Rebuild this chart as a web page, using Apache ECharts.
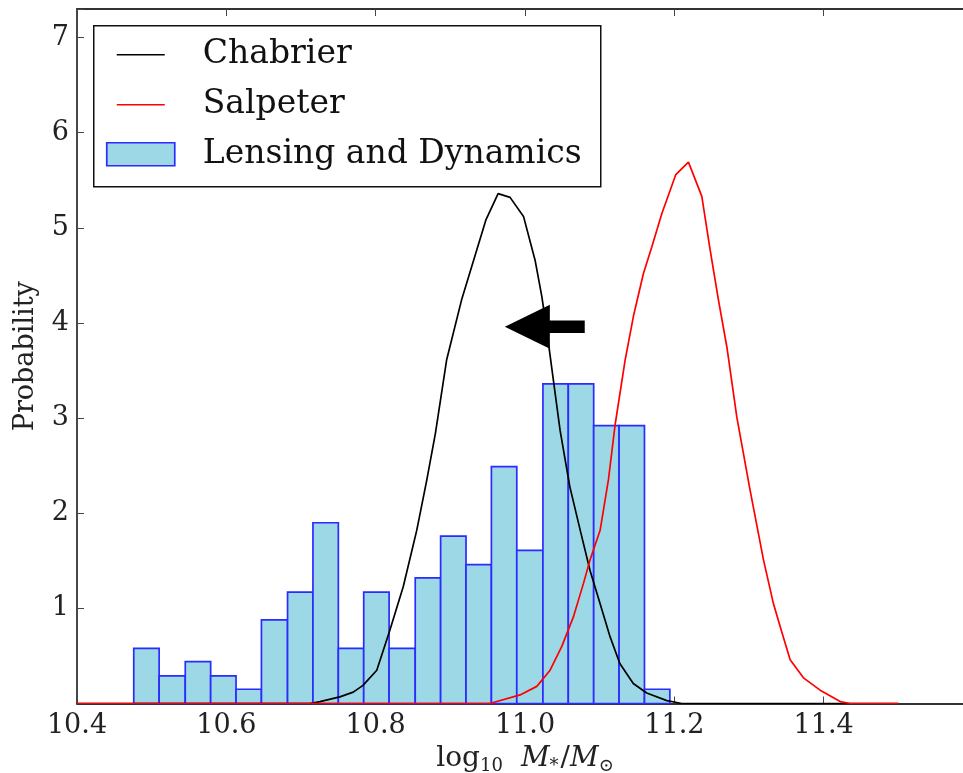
<!DOCTYPE html>
<html>
<head>
<meta charset="utf-8">
<script src="https://cdn.jsdelivr.net/npm/echarts@6/dist/echarts.min.js"></script>
<style>
  html, body { margin: 0; padding: 0; background: #fff; }
  #chart { width: 963px; height: 773px; }
</style>
</head>
<body>
<div id="chart"></div>
<script>
// Histogram of lensing + dynamics stellar masses (probability density per bin)
const binEdges = [10.476, 10.510, 10.545, 10.579, 10.613, 10.647, 10.682, 10.716, 10.750, 10.784,
                  10.818, 10.853, 10.887, 10.921, 10.955, 10.989, 11.024, 11.058, 11.092, 11.126,
                  11.160, 11.194];
const histDensity = [0.58, 0.29, 0.44, 0.29, 0.15, 0.88, 1.17, 1.90, 0.58, 1.17,
                     0.58, 1.32, 1.76, 1.46, 2.49, 1.61, 3.36, 3.36, 2.92, 2.92, 0.15];

// Stellar-population mass distributions for the two IMFs
const chabrierX = [10.40, 10.712, 10.7255, 10.752, 10.770, 10.783, 10.8015, 10.819, 10.837, 10.855,
                   10.8685, 10.880, 10.895, 10.915, 10.9475, 10.964, 10.980, 10.998, 11.0135, 11.0225,
                   11.029, 11.038, 11.047, 11.060, 11.074, 11.087, 11.1005, 11.114, 11.127, 11.145,
                   11.163, 11.190, 11.21, 11.50];
const chabrierY = [0, 0, 0.02, 0.07, 0.12, 0.19, 0.35, 0.77, 1.23, 1.82,
                   2.35, 2.84, 3.61, 4.24, 5.08, 5.36, 5.32, 5.12, 4.66, 4.28,
                   3.93, 3.40, 2.87, 2.28, 1.82, 1.40, 1.05, 0.70, 0.42, 0.21,
                   0.11, 0.03, 0, 0];
const salpeterX = [10.40, 10.953, 10.9934, 11.0158, 11.0336, 11.0493, 11.0648, 11.0782, 11.0872, 11.1006,
                   11.1117, 11.1207, 11.1341, 11.1452, 11.1586, 11.1699, 11.1833, 11.202, 11.2189, 11.2368,
                   11.2479, 11.2591, 11.2703, 11.2837, 11.3015, 11.3194, 11.3327, 11.3417, 11.3551, 11.3729,
                   11.3953, 11.4221, 11.4355, 11.50];
const salpeterY = [0, 0, 0.09, 0.18, 0.35, 0.60, 0.91, 1.26, 1.51, 1.82,
                   2.35, 2.93, 3.61, 4.07, 4.52, 4.80, 5.15, 5.56, 5.69, 5.33,
                   4.77, 4.24, 3.75, 3.01, 2.24, 1.51, 1.05, 0.81, 0.46, 0.27,
                   0.14, 0.02, 0, 0];

// Annotation arrow (tail -> head) in data coordinates
const arrowTail = [11.080, 3.96];
const arrowHead = [10.973, 3.96];

// Axis ranges and ticks
const xMin = 10.4, xMax = 11.6, xStep = 0.2;
const yMin = 0, yMax = 7.3, yStep = 1;

const legendNames = ['Chabrier', 'Salpeter', 'Lensing and Dynamics'];

const SERIF = '"DejaVu Serif", "Liberation Serif", serif';
const histFill = '#9dd8e6';
const histEdge = '#2b2bff';

const zip = (xs, ys) => xs.map((x, i) => [x, ys[i]]);
const histData = histDensity.map((h, i) => [binEdges[i], binEdges[i + 1], h]);

const chart = echarts.init(document.getElementById('chart'), null, { renderer: 'canvas' });

const axisLineStyle = { color: '#333', width: 1.8 };
const tickStyle = { show: true, inside: true, length: 7, lineStyle: { color: '#444', width: 1 } };

const option = {
  backgroundColor: '#ffffff',
  animation: false,
  grid: { left: 77, top: 9, right: -10, bottom: 69.5, containLabel: false, outerBoundsMode: 'none' },
  xAxis: [{
    type: 'value', min: xMin, max: xMax, interval: xStep, position: 'bottom',
    axisLine: { show: true, onZero: false, lineStyle: axisLineStyle },
    axisTick: tickStyle,
    splitLine: { show: false },
    axisLabel: {
      margin: 9, color: '#222', fontFamily: SERIF, fontSize: 27,
      showMaxLabel: false,
      formatter: v => (v < xMax - 1e-6 ? v.toFixed(1) : '')
    },
    name: '{r|log}{sub|10}{m|M}{star|*}{r|/}{i|M}{sub|\u2299}',
    nameLocation: 'middle', nameGap: 34,
    nameTextStyle: {
      rich: {
        r: { fontFamily: SERIF, fontSize: 28, color: '#222' },
        i: { fontFamily: SERIF, fontSize: 28, fontStyle: 'italic', color: '#222' },
        m: { fontFamily: SERIF, fontSize: 28, fontStyle: 'italic', color: '#222', padding: [0, 0, 0, 18] },
        sub: { fontFamily: SERIF, fontSize: 18, color: '#222', verticalAlign: 'bottom', padding: [12, 0, 0, 0] },
        star: { fontFamily: SERIF, fontSize: 18, color: '#222', verticalAlign: 'bottom', padding: [16, 2, 0, 0] }
      }
    }
  }, {
    type: 'value', min: xMin, max: xMax, interval: xStep, position: 'top',
    axisLine: { show: true, onZero: false, lineStyle: axisLineStyle },
    axisTick: tickStyle,
    splitLine: { show: false },
    axisLabel: { show: false }
  }],
  yAxis: [{
    type: 'value', min: yMin, max: yMax, interval: yStep, position: 'left',
    axisLine: { show: true, onZero: false, lineStyle: axisLineStyle },
    axisTick: tickStyle,
    splitLine: { show: false },
    axisLabel: {
      margin: 8, color: '#222', fontFamily: SERIF, fontSize: 27,
      formatter: v => (v > 0 && Math.abs(v - Math.round(v)) < 1e-9) ? String(Math.round(v)) : ''
    },
    name: 'Probability', nameLocation: 'middle', nameGap: 38,
    nameTextStyle: { fontFamily: SERIF, fontSize: 27, color: '#222' }
  }, {
    type: 'value', min: yMin, max: yMax, interval: yStep, position: 'right',
    axisLine: { show: true, onZero: false, lineStyle: axisLineStyle },
    axisTick: tickStyle,
    splitLine: { show: false },
    axisLabel: { show: false }
  }],
  series: [{
    name: legendNames[2],
    type: 'custom',
    xAxisIndex: 0, yAxisIndex: 0,
    z: 1,
    data: histData,
    renderItem: function (params, api) {
      const p0 = api.coord([api.value(0), api.value(2)]);
      const p1 = api.coord([api.value(1), 0]);
      return {
        type: 'rect',
        shape: { x: p0[0], y: p0[1], width: p1[0] - p0[0], height: p1[1] - p0[1] },
        style: { fill: histFill, stroke: histEdge, lineWidth: 1.7 }
      };
    }
  }, {
    name: legendNames[0],
    type: 'line', xAxisIndex: 0, yAxisIndex: 0, z: 3,
    data: zip(chabrierX, chabrierY),
    showSymbol: false, symbol: 'none',
    lineStyle: { color: '#000', width: 1.7 }
  }, {
    name: legendNames[1],
    type: 'line', xAxisIndex: 0, yAxisIndex: 0, z: 4,
    data: zip(salpeterX, salpeterY),
    showSymbol: false, symbol: 'none',
    lineStyle: { color: '#ff0000', width: 1.7 }
  }, {
    // filled arrow pointing from the Salpeter towards the Chabrier solution
    type: 'custom', xAxisIndex: 0, yAxisIndex: 0, z: 5,
    data: [[arrowTail[0], arrowTail[1], arrowHead[0], arrowHead[1]]],
    renderItem: function (params, api) {
      const t = api.coord([api.value(0), api.value(1)]);
      const h = api.coord([api.value(2), api.value(3)]);
      const headLen = 45, headHalf = 22, shaftHalf = 6.3;
      const dir = Math.sign(t[0] - h[0]);
      const hb = h[0] + dir * headLen;
      return {
        type: 'polygon',
        shape: {
          points: [
            [h[0], h[1]],
            [hb, h[1] - headHalf],
            [hb, h[1] - shaftHalf],
            [t[0], t[1] - shaftHalf],
            [t[0], t[1] + shaftHalf],
            [hb, h[1] + shaftHalf],
            [hb, h[1] + headHalf]
          ]
        },
        style: { fill: '#000' }
      };
    }
  }],
  graphic: [{
    type: 'group', left: 93, top: 25, z: 100,
    children: [
      { type: 'rect', shape: { x: 0, y: 0, width: 507, height: 161 },
        style: { fill: '#fff', stroke: '#111', lineWidth: 1.5 } },
      { type: 'line', shape: { x1: 23, y1: 29, x2: 71, y2: 29 },
        style: { stroke: '#000', lineWidth: 1.6 } },
      { type: 'text', x: 109, y: 29,
        style: { text: legendNames[0], font: '33px ' + SERIF, fill: '#111', textVerticalAlign: 'middle' } },
      { type: 'line', shape: { x1: 23, y1: 79, x2: 71, y2: 79 },
        style: { stroke: '#ff0000', lineWidth: 1.6 } },
      { type: 'text', x: 109, y: 79,
        style: { text: legendNames[1], font: '33px ' + SERIF, fill: '#111', textVerticalAlign: 'middle' } },
      { type: 'rect', shape: { x: 13, y: 117, width: 68, height: 23 },
        style: { fill: histFill, stroke: histEdge, lineWidth: 1.7 } },
      { type: 'text', x: 109, y: 129,
        style: { text: legendNames[2], font: '33px ' + SERIF, fill: '#111', textVerticalAlign: 'middle' } }
    ]
  }]
};

chart.setOption(option);
</script>
</body>
</html>
